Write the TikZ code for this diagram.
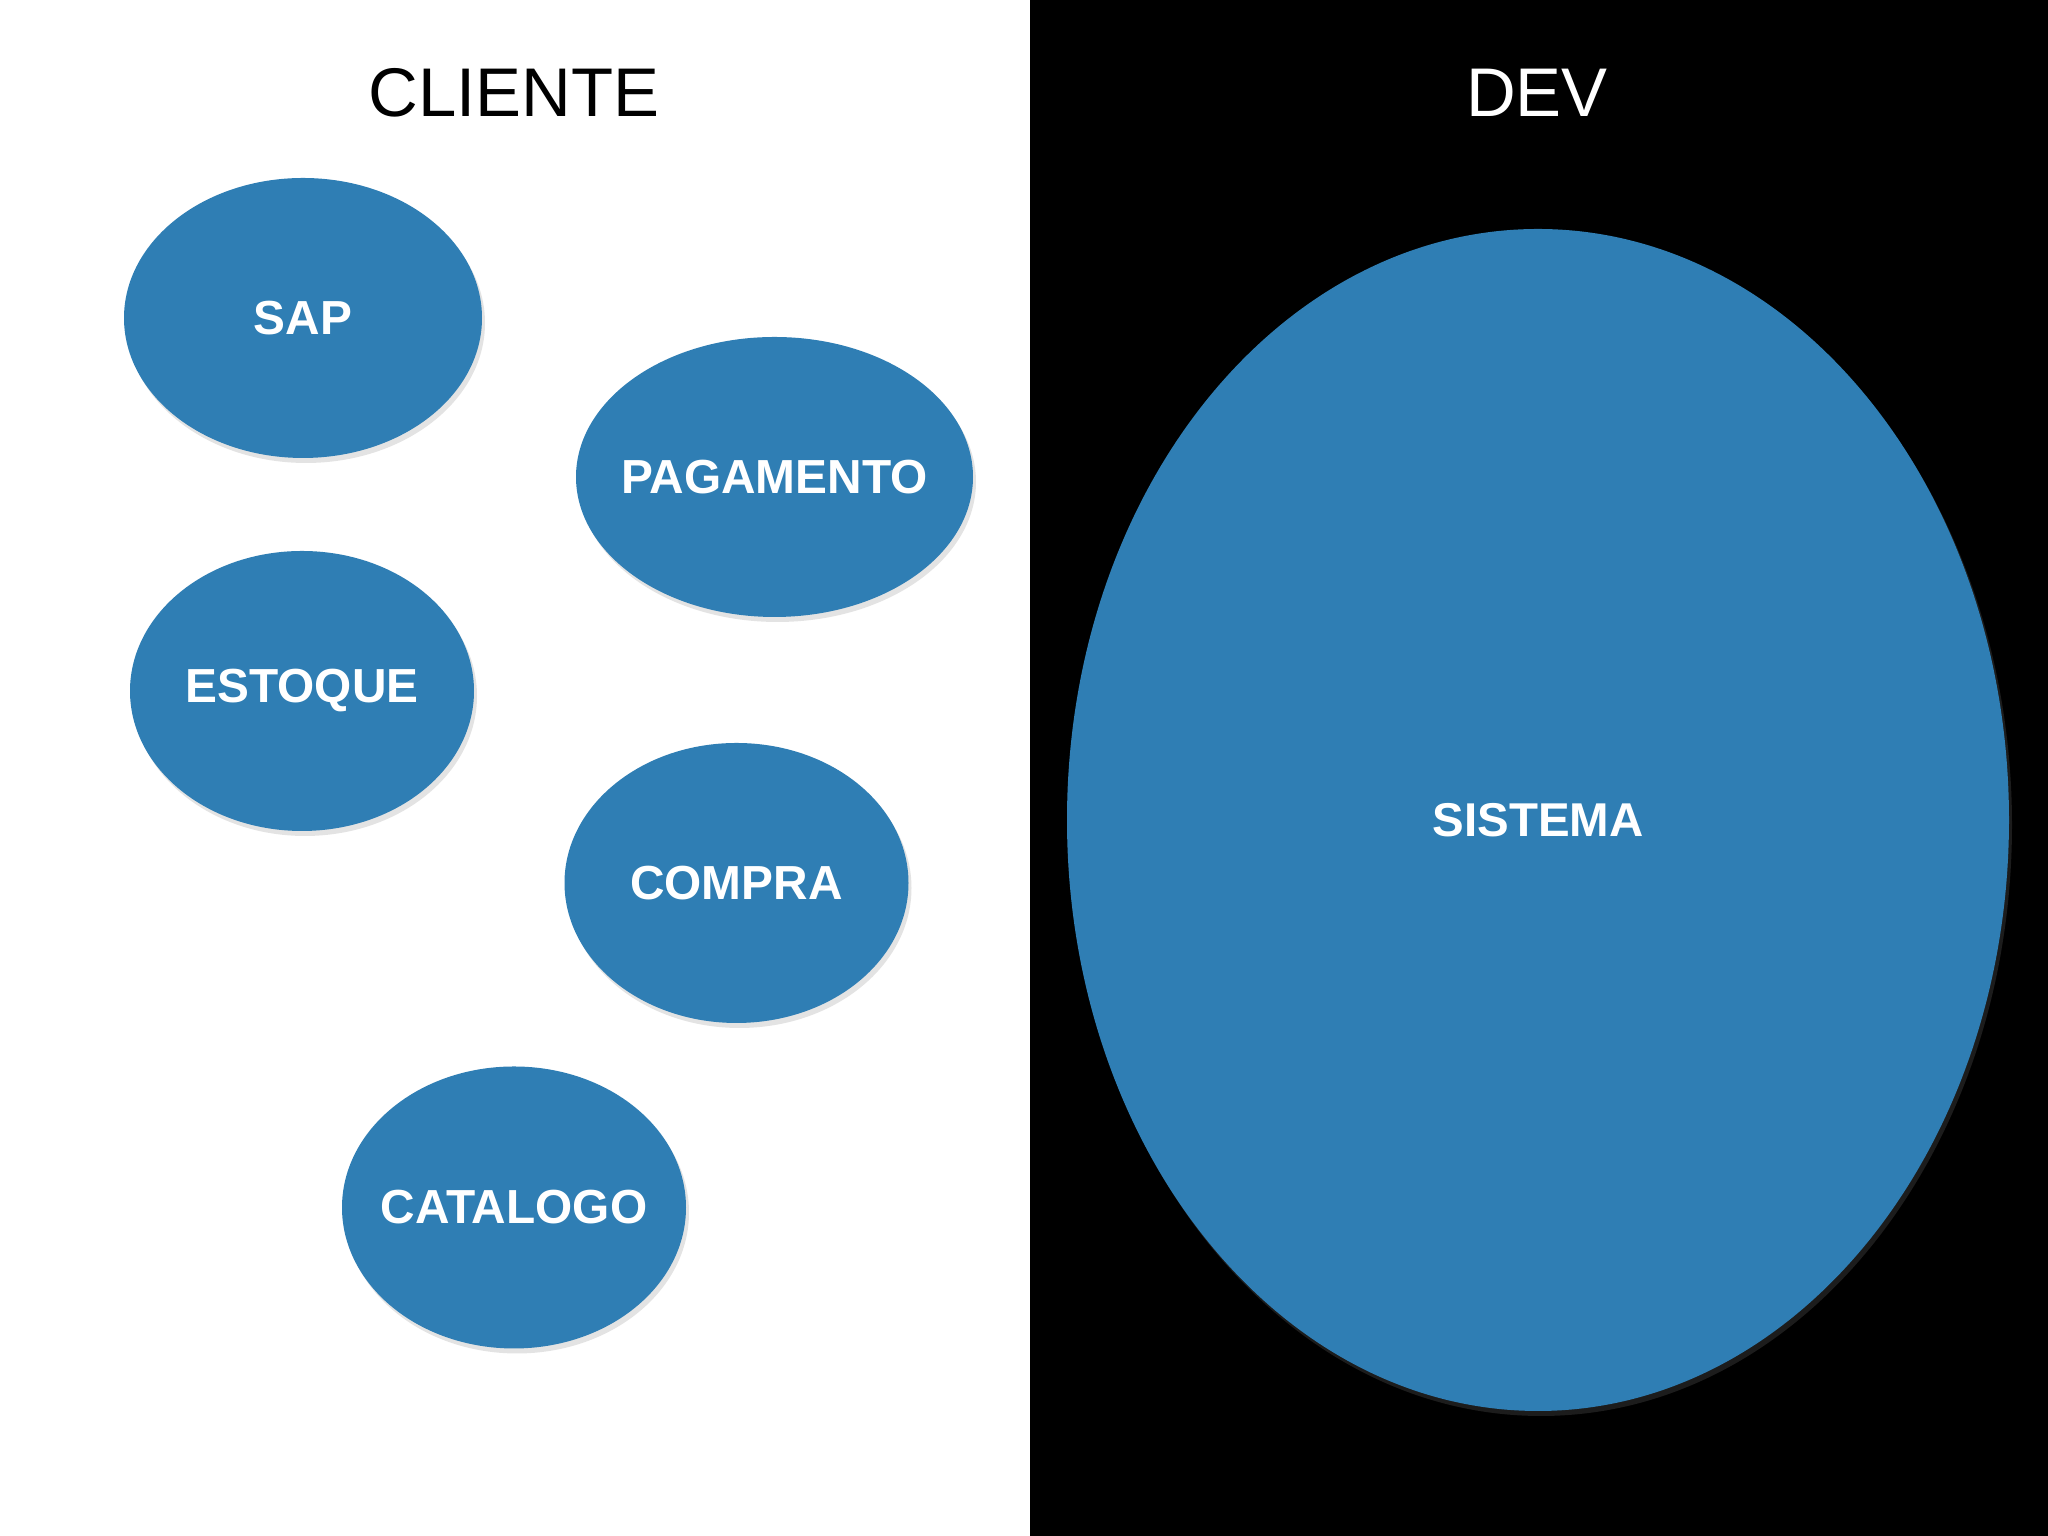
\documentclass[tikz,border=0pt]{standalone}
\usepackage{fontspec}
\setmainfont{Liberation Sans}
\usetikzlibrary{shapes.geometric}
\usetikzlibrary{shadows}
\usetikzlibrary{positioning}

\definecolor{bolha}{RGB}{47,126,180}

\tikzset{
    modulo/.style={ellipse,fill=bolha,text=white,inner sep=-0.6cm,font=\fontsize{13.6}{16}\selectfont\bfseries,
        drop shadow={opacity=0.22,shadow xshift=0.03,shadow yshift=-0.05}},
    titulo/.style={font=\fontsize{19.6}{24}\selectfont}
}

\begin{document}
\begin{tikzpicture}

    \useasboundingbox(0,0)rectangle(20.48,15.36);
    \fill[white](0,0)rectangle(10.30,15.36);
    \fill[black](10.30,0)rectangle(20.48,15.36);

    \node[titulo,black](cliente)at(5.14,14.43){CLIENTE};
    \node[titulo,white](dev)at(15.37,14.43){DEV};

    \node[modulo,minimum width=3.58cm,minimum height=2.80cm](sap)at(3.03,12.18){SAP};
    \node[modulo,minimum width=3.97cm,minimum height=2.80cm](pagamento)at(7.745,10.59){PAGAMENTO};
    \node[modulo,minimum width=3.44cm,minimum height=2.80cm](estoque)at(3.02,8.45){ESTOQUE};
    \node[modulo,minimum width=3.44cm,minimum height=2.80cm](compra)at(7.365,6.53){COMPRA};
    \node[modulo,minimum width=3.44cm,minimum height=2.82cm](catalogo)at(5.14,3.285){CATALOGO};

    \node[modulo,font=\fontsize{13.5}{16}\selectfont\bfseries,minimum width=9.42cm,minimum height=11.82cm](sistema)at(15.38,7.16){SISTEMA};

\end{tikzpicture}
\end{document}
